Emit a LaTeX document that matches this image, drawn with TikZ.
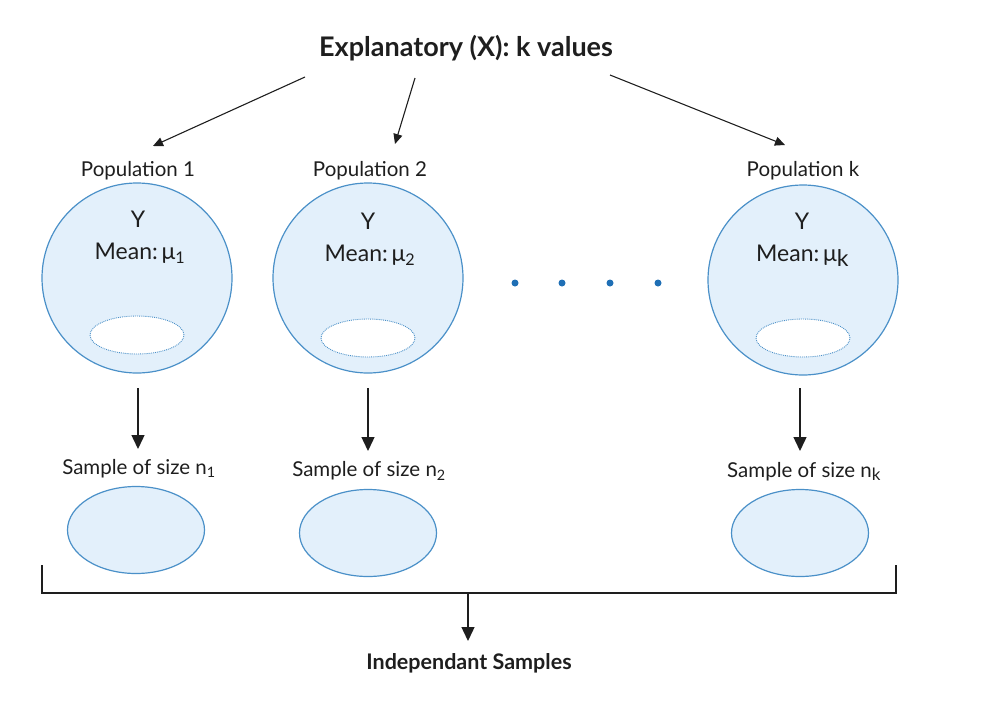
\documentclass[tikz,border=0pt]{standalone}
\usepackage{fontspec}
\setmainfont{Lato}
\usetikzlibrary{arrows.meta,shapes.geometric}
\definecolor{popfill}{HTML}{E3F0FB}
\definecolor{popline}{HTML}{4A90C8}
\definecolor{dotblue}{HTML}{1F6FB5}
\definecolor{ink}{HTML}{1E1E1E}
\tikzset{
  popc/.style={circle,draw=popline,fill=popfill,line width=1.2pt,minimum size=190pt,inner sep=0pt},
  inner/.style={ellipse,draw=popline,fill=white,densely dotted,line width=0.9pt,minimum width=94pt,minimum height=38pt,inner sep=0pt},
  samp/.style={ellipse,draw=popline,fill=popfill,line width=1.2pt,minimum width=137pt,minimum height=87pt,inner sep=0pt},
  lbl/.style={font=\fontsize{20.5pt}{22pt}\selectfont,text=ink,inner sep=0pt},
  meanlbl/.style={font=\fontsize{23pt}{25pt}\selectfont,text=ink,inner sep=0pt},
  bigbold/.style={font=\fontsize{27pt}{29pt}\selectfont\bfseries,text=ink,inner sep=0pt},
  smallbold/.style={font=\fontsize{21.5pt}{23pt}\selectfont\bfseries,text=ink,inner sep=0pt},
  arr/.style={draw=ink,line width=1.1pt,-{Triangle[width=9pt,length=10pt]}},
  darr/.style={draw=ink,line width=1.4pt,-{Triangle[width=13pt,length=14pt]}},
  dotc/.style={circle,fill=dotblue,minimum size=7pt,inner sep=0pt},
}
\begin{document}
\begin{tikzpicture}[x=1pt,y=-1pt]
\useasboundingbox (0,0) rectangle (988,702);
% title
\node[bigbold] (title) at (466,48) {Explanatory (X): k values};
\coordinate (t1) at (305,77);
\coordinate (t2) at (415,78);
\coordinate (t3) at (610,75);
\coordinate (h1) at (153,146);
\coordinate (h2) at (395,144);
\coordinate (h3) at (785,145);
\draw[arr] (t1) -- (h1);
\draw[arr] (t2) -- (h2);
\draw[arr] (t3) -- (h3);
% population labels
\node[lbl] (pl1) at (138,171) {Population 1};
\node[lbl] (pl2) at (370,171) {Population 2};
\node[lbl] (plk) at (803,171) {Population k};
% circles
\node[popc] (p1) at (137,278) {};
\node[popc] (p2) at (368,278) {};
\node[popc] (pk) at (803,280) {};
\node[meanlbl] (y1) at (138,219) {Y};
\node[meanlbl] (y2) at (368,221) {Y};
\node[meanlbl] (yk) at (802,221) {Y};
\node[meanlbl] (m1) at (140,253) {Mean:\,μ\textsubscript{1}};
\node[meanlbl] (m2) at (370,255) {Mean:\,μ\textsubscript{2}};
\node[meanlbl,anchor=base west] (mk) at (756,261) {Mean:\,μ\raisebox{-5pt}{k}};
\node[inner] (i1) at (137,335) {};
\node[inner] (i2) at (368,338) {};
\node[inner] (ik) at (803,338) {};
% dots
\node[dotc] (d1) at (515,283) {};
\node[dotc] (d2) at (562,283) {};
\node[dotc] (d3) at (610,283) {};
\node[dotc] (d4) at (658,283) {};
% down arrows
\coordinate (a1) at (138,388);
\coordinate (a2) at (368,388);
\coordinate (ak) at (800,388);
\coordinate (b1) at (138,449);
\coordinate (b2) at (368,451);
\coordinate (bk) at (800,451);
\draw[darr] (a1) -- (b1);
\draw[darr] (a2) -- (b2);
\draw[darr] (ak) -- (bk);
% sample labels
\node[lbl] (s1) at (139,469) {Sample of size n\textsubscript{1}};
\node[lbl] (s2) at (369,471) {Sample of size n\textsubscript{2}};
\node[lbl,anchor=base west] (sk) at (727,477) {Sample of size n\raisebox{-3pt}{\fontsize{17pt}{19pt}\selectfont k}};
% sample ellipses
\node[samp] (e1) at (136,530) {};
\node[samp] (e2) at (368,533) {};
\node[samp] (ek) at (800,533) {};
% bracket
\coordinate (bl) at (42,565);
\coordinate (blb) at (42,593);
\coordinate (brb) at (896,593);
\coordinate (br) at (896,565);
\draw[draw=ink,line width=1.4pt] (bl) -- (blb) -- (brb) -- (br);
\coordinate (c0) at (468,593);
\coordinate (c1) at (468,641);
\draw[darr] (c0) -- (c1);
\node[smallbold] (ind) at (469,663) {Independant Samples};
\end{tikzpicture}
\end{document}
